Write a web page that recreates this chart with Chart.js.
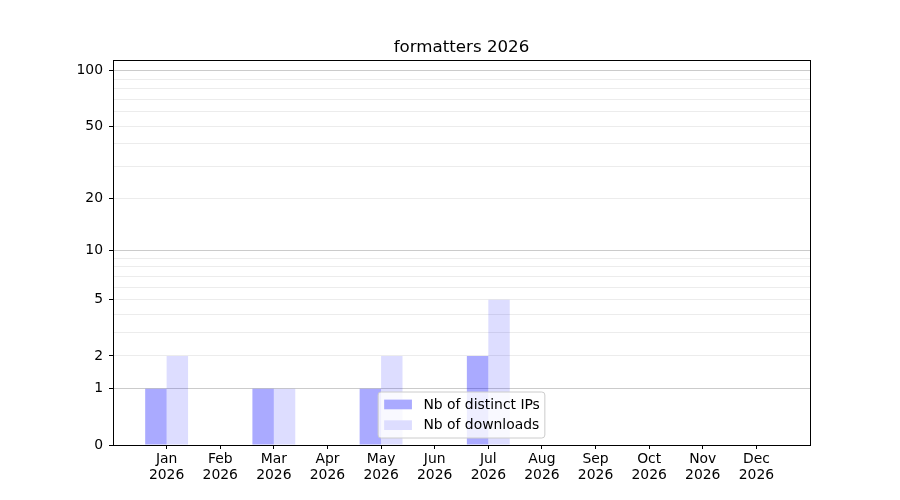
<!DOCTYPE html>
<html>
<head>
<meta charset="utf-8">
<script src="https://cdn.jsdelivr.net/npm/chart.js@4/dist/chart.umd.min.js"></script>
<style>
  html, body { margin: 0; padding: 0; background: #ffffff; }
  #wrap { width: 900px; height: 500px; position: relative; }
</style>
</head>
<body>
<div id="wrap"><canvas id="c" width="900" height="500"></canvas></div>
<script>
// ---- data ----
const chartTitle = 'formatters 2026';
const months = ['Jan', 'Feb', 'Mar', 'Apr', 'May', 'Jun', 'Jul', 'Aug', 'Sep', 'Oct', 'Nov', 'Dec'];
const yearLabel = '2026';
const distinctIPs = [1, 0, 1, 0, 1, 0, 2, 0, 0, 0, 0, 0];
const downloads = [2, 0, 1, 0, 2, 0, 5, 0, 0, 0, 0, 0];
const seriesNames = ['Nb of distinct IPs', 'Nb of downloads'];
const yTickValues = [0, 1, 2, 3, 4, 5, 6, 7, 8, 9, 10, 20, 30, 40, 50, 60, 70, 80, 90, 100];
const yLabeledTicks = [0, 1, 2, 5, 10, 20, 50, 100];
const yMajorTicks = [1, 10, 100];
const yMax = 114.5;

// ---- custom log(1+x) scale ----
class Log1pScale extends Chart.Scale {
  determineDataLimits() {
    const mm = this.getMinMax(true);
    this.min = (this.options.min !== undefined) ? this.options.min : Math.min(0, mm.min);
    this.max = (this.options.max !== undefined) ? this.options.max : mm.max;
  }
  buildTicks() {
    return yTickValues.filter(v => v >= this.min && v <= this.max).map(v => ({ value: v }));
  }
  configure() {
    super.configure();
    this._startValue = Math.log10(1 + this.min);
    this._valueRange = Math.log10(1 + this.max) - this._startValue;
  }
  getLabelForValue(v) { return String(v); }
  getPixelForValue(value) {
    if (value === undefined || value === null || isNaN(value)) return NaN;
    return this.getPixelForDecimal((Math.log10(1 + value) - this._startValue) / this._valueRange);
  }
  getValueForPixel(pixel) {
    const d = this.getDecimalForPixel(pixel);
    return Math.pow(10, this._startValue + d * this._valueRange) - 1;
  }
}
Log1pScale.id = 'log1p';
Log1pScale.defaults = {};
Chart.register(Log1pScale);

// ---- plugins ----
const framePlugin = {
  id: 'frame',
  afterDatasetsDraw(chart) {
    const { ctx, chartArea: a } = chart;
    ctx.save();
    ctx.strokeStyle = '#000000';
    ctx.lineWidth = 1;
    ctx.strokeRect(Math.round(a.left) + 0.5, Math.round(a.top) + 0.5, Math.round(a.right - a.left), Math.round(a.bottom - a.top));
    ctx.restore();
  }
};

const innerLegend = {
  id: 'innerLegend',
  afterDraw(chart) {
    const { ctx, chartArea: a } = chart;
    const font = '13.9px "DejaVu Sans"';
    ctx.save();
    ctx.font = font;
    const items = chart.data.datasets.map(d => ({ text: d.label, color: d.backgroundColor }));
    const textW = Math.max(...items.map(i => ctx.measureText(i.text).width));
    const padL = 6, patchW = 27.8, gap = 11.5, padR = 5;
    const boxW = padL + patchW + gap + textW + padR;
    const boxH = 46;
    const cx = (a.left + a.right) / 2;
    const x0 = cx - boxW / 2;
    const y0 = a.bottom - 7 - boxH;
    // box
    const r = 3;
    ctx.beginPath();
    ctx.moveTo(x0 + r, y0);
    ctx.lineTo(x0 + boxW - r, y0);
    ctx.quadraticCurveTo(x0 + boxW, y0, x0 + boxW, y0 + r);
    ctx.lineTo(x0 + boxW, y0 + boxH - r);
    ctx.quadraticCurveTo(x0 + boxW, y0 + boxH, x0 + boxW - r, y0 + boxH);
    ctx.lineTo(x0 + r, y0 + boxH);
    ctx.quadraticCurveTo(x0, y0 + boxH, x0, y0 + boxH - r);
    ctx.lineTo(x0, y0 + r);
    ctx.quadraticCurveTo(x0, y0, x0 + r, y0);
    ctx.closePath();
    ctx.fillStyle = 'rgba(255,255,255,0.8)';
    ctx.fill();
    ctx.strokeStyle = '#cccccc';
    ctx.lineWidth = 1;
    ctx.stroke();
    // entries
    ctx.textBaseline = 'middle';
    ctx.textAlign = 'left';
    items.forEach((it, i) => {
      const cy = y0 + 12.5 + i * 20.7;
      ctx.fillStyle = '#ffffff';
      ctx.fillRect(x0 + padL, cy - 4.9, patchW, 9.7);
      ctx.fillStyle = it.color;
      ctx.fillRect(x0 + padL, cy - 4.9, patchW, 9.7);
      ctx.fillStyle = '#000000';
      ctx.fillText(it.text, x0 + padL + patchW + gap, cy + 0.5);
    });
    ctx.restore();
  }
};

// ---- chart ----
Chart.defaults.font.family = '"DejaVu Sans", sans-serif';
Chart.defaults.color = '#000000';

const toPoints = arr => arr.map((v, i) => ({ x: i, y: v }));

new Chart(document.getElementById('c'), {
  type: 'bar',
  data: {
    datasets: [
      { label: seriesNames[0], data: toPoints(distinctIPs), backgroundColor: 'rgba(0,0,255,0.333)', borderWidth: 0, categoryPercentage: 0.8, barPercentage: 1.0 },
      { label: seriesNames[1], data: toPoints(downloads), backgroundColor: 'rgba(0,0,255,0.133)', borderWidth: 0, categoryPercentage: 0.8, barPercentage: 1.0 }
    ]
  },
  options: {
    responsive: false,
    animation: false,
    devicePixelRatio: 1,
    layout: { padding: { left: 0, right: 90, top: 0, bottom: 0 } },
    plugins: {
      legend: { display: false },
      tooltip: { enabled: false },
      title: {
        display: true,
        text: chartTitle,
        fullSize: false,
        color: '#000000',
        font: { size: 16.67, weight: 'normal', lineHeight: 1.2 },
        padding: { top: 37.5, bottom: 2.5 }
      }
    },
    scales: {
      x: {
        type: 'linear',
        min: -1,
        max: 12,
        offset: false,
        afterBuildTicks: s => { s.ticks = months.map((m, i) => ({ value: i })); },
        afterFit: s => { s.height = 55; },
        ticks: {
          autoSkip: false,
          maxRotation: 0,
          padding: 2,
          font: { size: 13.9, lineHeight: 1.15 },
          color: '#000000',
          callback: (v) => [months[v], yearLabel]
        },
        grid: { display: true, drawOnChartArea: false, drawTicks: true, tickLength: 4, tickColor: '#000000', tickWidth: 1, offset: false },
        border: { display: true, color: '#000000', width: 1 }
      },
      y: {
        type: 'log1p',
        min: 0,
        max: yMax,
        afterFit: s => { s.width = 113; },
        ticks: {
          autoSkip: false,
          padding: 6,
          font: { size: 13.9 },
          color: '#000000',
          callback: (v) => yLabeledTicks.includes(v) ? String(v) : ''
        },
        grid: {
          drawTicks: true,
          tickLength: 4,
          lineWidth: 1,
          color: ctx => yMajorTicks.includes(ctx.tick.value) ? '#cbcbcb' : '#ececec',
          tickColor: ctx => yLabeledTicks.includes(ctx.tick.value) ? '#000000' : 'rgba(0,0,0,0)'
        },
        border: { display: true, color: '#000000', width: 1 }
      }
    }
  },
  plugins: [framePlugin, innerLegend]
});
</script>
</body>
</html>
